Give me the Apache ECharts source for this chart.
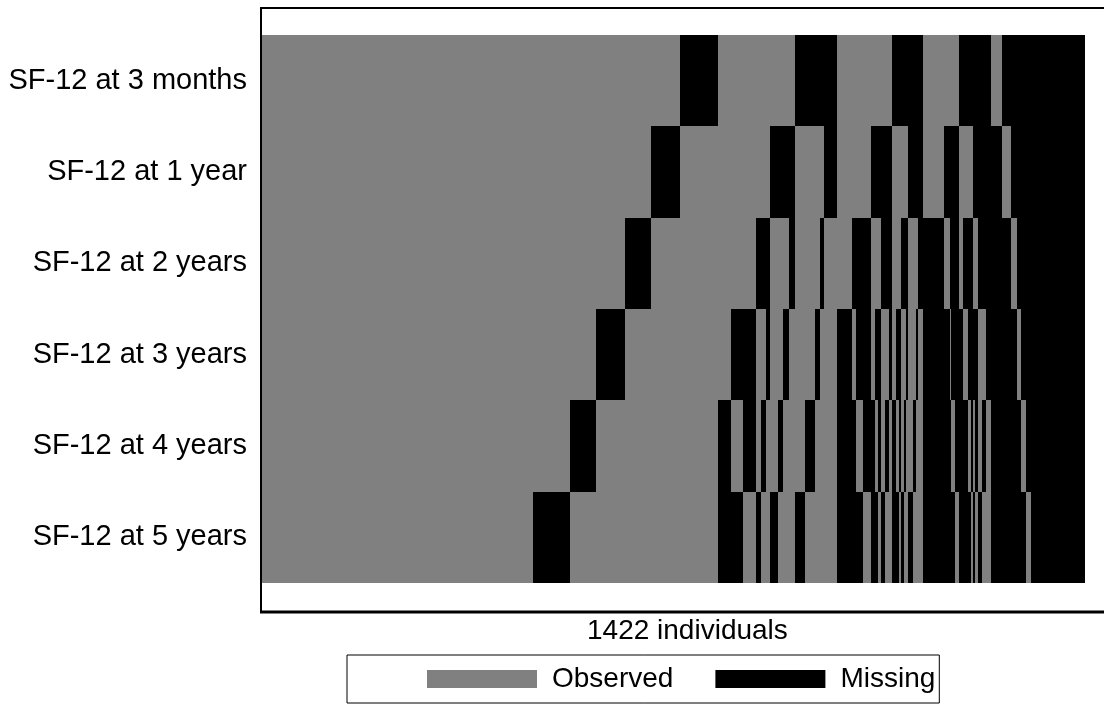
<!DOCTYPE html>
<html>
<head>
<meta charset="utf-8">
<script src="https://cdn.jsdelivr.net/npm/echarts@6/dist/echarts.min.js"></script>
<style>
html,body{margin:0;padding:0;background:#fff;}
#chart{width:1104px;height:713px;}
</style>
</head>
<body>
<div id="chart"></div>
<script>
// Row (variable) labels, top to bottom
const rowLabels = ['SF-12 at 3 months', 'SF-12 at 1 year', 'SF-12 at 2 years', 'SF-12 at 3 years', 'SF-12 at 4 years', 'SF-12 at 5 years'];
// Missing-data patterns: one character per row above, '1' = missing, '0' = observed
const patterns = [
  '000000',
  '000001','000010','000100','001000','010000','100000',
  '000011','000101','000110','001001','001010','001100','010001','010010','010100','011000','100001','100010','100100','101000','110000',
  '000111','001011','001101','001110','010011','010101','010110','011001','011010','011100','100011','100101','100110','101001','101010','101100','110001','110010','110100','111000',
  '001111','010111','011011','011101','011110','100111','101011','101101','101110','110101','110110','111001','111010','111100',
  '011111','101111','110111','111011','111101','111110',
  '111111'
];
// Number of individuals with each pattern
const counts = [
  469,
  63,45,50,45,51,65,
  22,21,22,10,7,8,13,10,10,10,17,18,8,7,22,
  26,7,12,14,7,5,5,8,6,6,6,5,4,5,4,4,7,6,3,9,
  36,10,3,7,7,7,8,5,4,3,5,7,7,9,
  18,16,10,8,8,9,
  93
];
const totalIndividuals = 1422;
const xTitle = '1422 individuals';
const legendNames = ['Observed', 'Missing'];

// Build merged runs per row from the pattern counts
const observedRuns = [], missingRuns = [];
for (let r = 0; r < rowLabels.length; r++) {
  let pos = 0, runStart = 0, cur = null;
  for (let i = 0; i < patterns.length; i++) {
    const st = patterns[i][r];
    if (cur === null) { cur = st; runStart = pos; }
    else if (st !== cur) {
      (cur === '1' ? missingRuns : observedRuns).push([runStart, pos, r]);
      cur = st; runStart = pos;
    }
    pos += counts[i];
  }
  (cur === '1' ? missingRuns : observedRuns).push([runStart, pos, r]);
}

function renderCell(params, api) {
  const p0 = api.coord([api.value(0), api.value(2)]);
  const p1 = api.coord([api.value(1), api.value(2)]);
  const h = api.size([0, 1])[1];
  const x0 = Math.round(p0[0]), x1 = Math.round(p1[0]);
  const y0 = Math.round(p0[1] - h / 2), y1 = Math.round(p0[1] + h / 2);
  return {
    type: 'rect',
    shape: { x: x0, y: y0, width: x1 - x0, height: y1 - y0 },
    style: { fill: api.visual('color') }
  };
}

const chart = echarts.init(document.getElementById('chart'), null, { renderer: 'canvas' });
const FONT = '"Liberation Sans", Arial, sans-serif';
chart.setOption({
  animation: false,
  backgroundColor: '#fff',
  textStyle: { fontFamily: FONT },
  grid: { left: 262, right: 19, top: 35, bottom: 130, containLabel: false },
  xAxis: { type: 'value', min: 0, max: totalIndividuals, show: false },
  yAxis: {
    type: 'category', data: rowLabels, inverse: true,
    axisLine: { show: false }, axisTick: { show: false }, splitLine: { show: false },
    axisLabel: { fontSize: 29, color: '#000', margin: 15, fontFamily: FONT }
  },
  legend: {
    data: legendNames, left: 347, top: 655, orient: 'horizontal',
    icon: 'rect', itemWidth: 110, itemHeight: 18, itemGap: 42,
    borderColor: '#000', borderWidth: 1, padding: [10, 4, 10, 80],
    textStyle: { fontSize: 28, color: '#000', fontFamily: FONT, padding: [0, 0, 0, 10] }
  },
  graphic: [
    { type: 'rect', shape: { x: 261, y: 8, width: 900, height: 604 }, style: { fill: 'none', stroke: '#000', lineWidth: 2 }, z: -1 },
    { type: 'line', shape: { x1: 260, y1: 612, x2: 1104, y2: 612 }, style: { stroke: '#000', lineWidth: 3 } },
    { type: 'text', left: 686 - 99, top: 617, style: { text: xTitle, font: '28px ' + FONT, fill: '#000' } }
  ],
  series: [
    { name: 'Observed', type: 'custom', renderItem: renderCell, encode: { x: [0, 1], y: 2 }, itemStyle: { color: '#808080' }, data: observedRuns },
    { name: 'Missing', type: 'custom', renderItem: renderCell, encode: { x: [0, 1], y: 2 }, itemStyle: { color: '#000000' }, data: missingRuns }
  ]
});
</script>
</body>
</html>
